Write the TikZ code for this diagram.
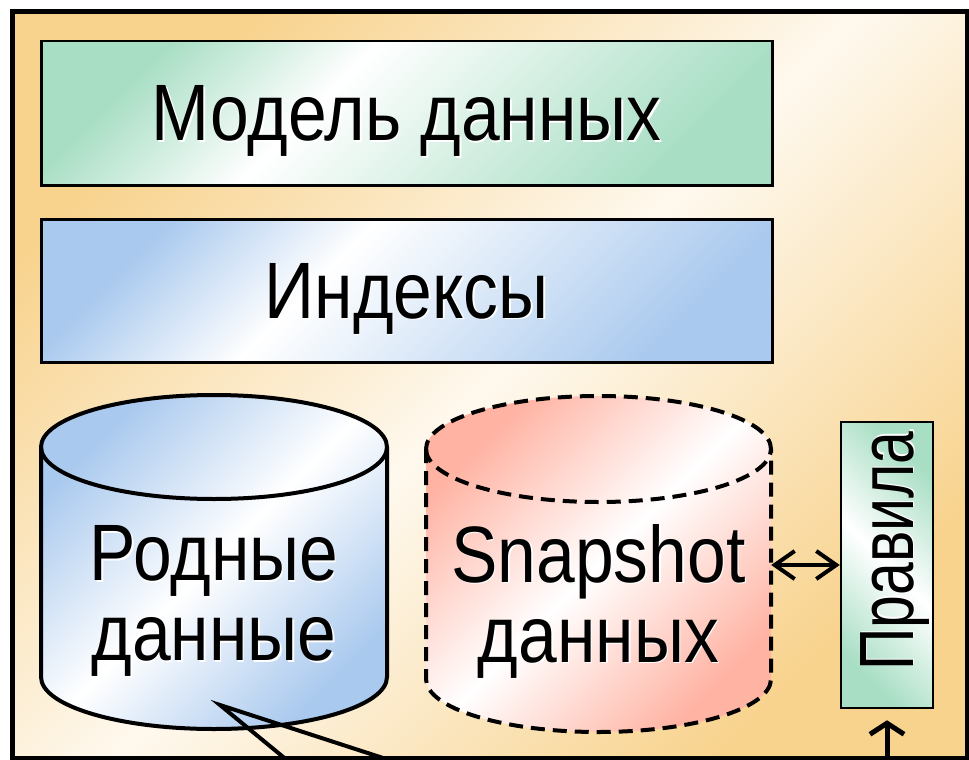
\documentclass[tikz,border=0pt]{standalone}
\usepackage{fontspec}
\usepackage{graphicx}
\setmainfont{Liberation Sans}[FakeStretch=0.87]
\usetikzlibrary{arrows.meta}
\definecolor{peach}{RGB}{248,211,142}
\definecolor{mint}{RGB}{168,222,196}
\definecolor{sky}{RGB}{169,201,238}
\definecolor{salmon}{RGB}{255,179,163}
\pgfdeclarehorizontalshading{boxmint}{100bp}{color(0bp)=(mint); color(25bp)=(mint);
    color(42bp)=(white); color(75bp)=(mint); color(100bp)=(mint)}
\pgfdeclarehorizontalshading{boxsky}{100bp}{color(0bp)=(sky); color(25bp)=(sky);
    color(42bp)=(white); color(75bp)=(sky); color(100bp)=(sky)}
% white halo under each line of text
\newcommand\glow[1]{\rlap{\kern1.5pt\raisebox{-1.5pt}{\color{white}#1}}#1}

\begin{document}
\begin{tikzpicture}[x=1pt,y=-1pt,
        big/.style={font=\fontsize{80}{80}\selectfont},
        box/.style={draw,shade,line width=2.5pt,inner sep=0pt,
            anchor=north west,text depth=0pt,big},
        cyl/.style={line width=4pt},
        cyltext/.style={align=center,inner sep=0pt,big},
        snapline/.style={dash pattern=on 14pt off 8pt},
        link/.style={line width=4pt},
        ]
    \useasboundingbox (0,0) rectangle (969,760);
    % frame
    \draw[line width=5pt,top color=peach,bottom color=peach,middle color=white!85!peach,
        shading angle=45] (12,12) rectangle (967,758);

    \node (model) [box,shading=boxmint,shading angle=-45,minimum width=731,minimum height=144]
        at (40,40) {\glow{Модель данных}};
    \node (index) [box,shading=boxsky,shading angle=-45,minimum width=731,minimum height=143]
        at (40,218) {\glow{Индексы}};

    % native data
    \draw[cyl,top color=sky,bottom color=sky,middle color=white,shading angle=45]
        (41,447) -- (41,677) arc[start angle=180,end angle=0,x radius=173,y radius=52]
        -- (387,447) arc[start angle=0,end angle=-180,x radius=173,y radius=52] -- cycle;
    \draw[line width=4pt] (41,447) arc[start angle=180,end angle=0,x radius=173,y radius=52];
    \node (native) [cyltext,minimum width=346] at (214,602) {\glow{Родные}\\\glow{данные}};

    % snapshot
    \draw[cyl,snapline,top color=salmon,bottom color=salmon,middle color=white,shading angle=45]
        (426,449) -- (426,679) arc[start angle=180,end angle=0,x radius=172.5,y radius=53]
        -- (771,449) arc[start angle=0,end angle=-180,x radius=172.5,y radius=53] -- cycle;
    \draw[line width=4pt,snapline] (426,449) arc[start angle=180,end angle=0,x radius=172.5,y radius=53];
    \node (snap) [cyltext,minimum width=345] at (598.5,602) {\glow{Snapshot}\\\glow{данных}};

    \node (rules) [draw,line width=2.5pt,rotate=90,
        top color=mint,bottom color=mint,middle color=white,shading angle=-45,
        minimum width=286,minimum height=92,inner sep=0pt,text depth=0pt,
        font=\fontsize{77}{77}\selectfont] at (887,565) {\hspace*{28pt}\scalebox{0.88}[1]{\glow{Правила}}};

    \draw[link,{Straight Barb[length=20pt,width=28pt]}-{Straight Barb[length=20pt,width=28pt]}]
        (snap.east |- rules.north) -- (rules.north);

    \coordinate (feed) at (887,775);
    \draw[line width=5pt,-{Straight Barb[length=11pt,width=34pt]},shorten >=11pt] (feed) -- (rules.west);

    % callout pointer
    \coordinate (tip) at (220,705);
    \coordinate (legA) at (299,770);
    \coordinate (legB) at (420,770);
    \draw[line width=4pt] (legA) -- (tip) -- (legB);
\end{tikzpicture}
\end{document}
